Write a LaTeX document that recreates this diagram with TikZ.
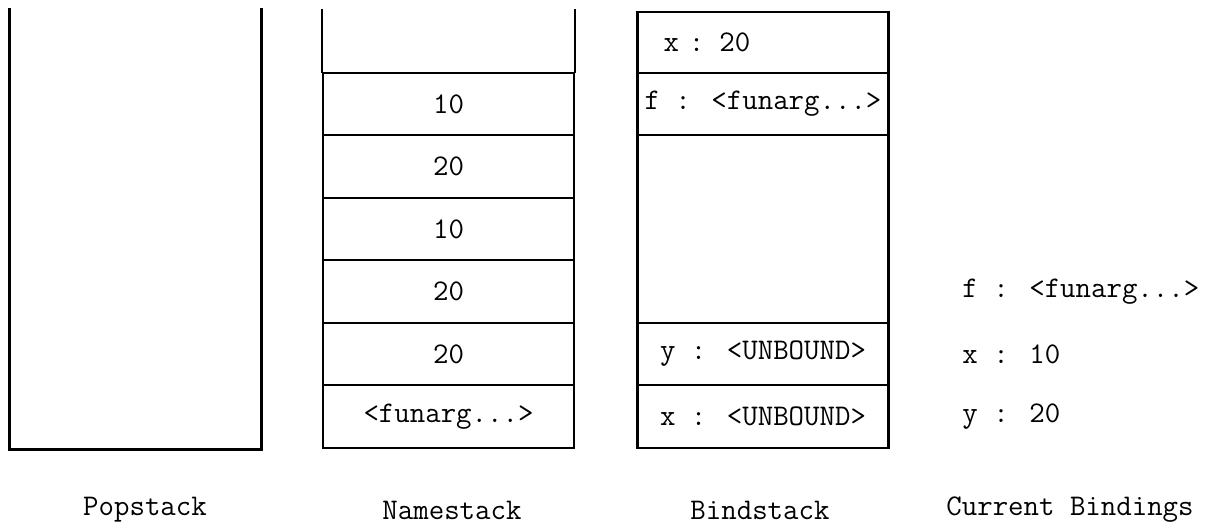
\documentclass[tikz,border=0pt]{standalone}
\usepackage{fontspec}
\usepackage{tikz}
\usetikzlibrary{positioning}
\newcommand{\fnarg}{<funarg...>}

\begin{document}
\begin{tikzpicture}[x=0.5pt,y=-0.5pt,font=\ttfamily\fontsize{15}{18}\selectfont,
  wall/.style={line width=1.2pt,line cap=rect},
  cell/.style={draw,line width=1.2pt,inner sep=0pt,minimum width=125.5pt,minimum height=31.25pt},
  lbl/.style={inner sep=0pt},
  bind/.style={inner sep=0pt,anchor=west}]
\useasboundingbox (0,0) rectangle (1205,527);
\coordinate (top) at (0,10);

% Popstack: open at the top
\node[minimum width=125.5pt,minimum height=219.5pt,inner sep=0pt] (pop) at (135.5,229.5) {};
\draw[wall] (pop.north west) -- (pop.south west) -- (pop.south east) -- (pop.north east);

% Namestack
\foreach \v [count=\i] in {10,20,10,20,20,\fnarg}
  \node[cell] (n\i) at (448.5,41.5+62.5*\i) {\v};
\draw[wall] (n1.north west) -- (n1.north west |- top);
\draw[wall] (n1.north east) -- (n1.north east |- top);

% Bindstack
\node[cell,minimum height=30.5pt,text width=99.5pt,inner xsep=13pt,align=left] (b1) at (763,42.5) {x : 20};
\node[cell] (b2) at (763,104) {f : \fnarg};
\node[cell,minimum height=94pt] (b3) at (763,229) {};
\node[cell] (b4) at (763,354) {y : <UNBOUND>};
\node[cell] (b5) at (763,416.5) {x : <UNBOUND>};

% Current bindings
\node[bind] (cf) at (962,291.5) {f : \fnarg};
\node[bind] (cx) at (962,354) {x : 10};
\node[bind] (cy) at (962,416.5) {y : 20};

\node[lbl] (lpop) at (145,510) {Popstack};
\node[lbl] (lname) at (452,510) {Namestack};
\node[lbl] (lbind) at (760,510) {Bindstack};
\node[lbl] (lcur) at (1070,510) {Current Bindings};
\end{tikzpicture}
\end{document}
